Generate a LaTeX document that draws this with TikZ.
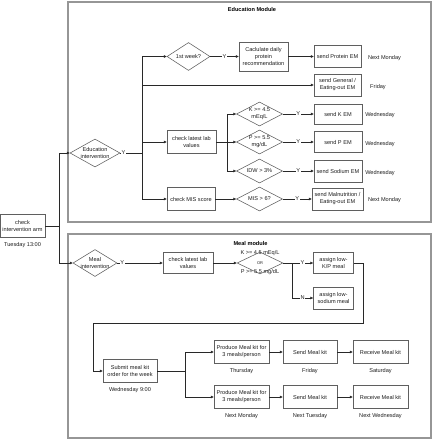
\documentclass[tikz,border=0pt]{standalone}
\usepackage{fontspec}
\setmainfont{Liberation Sans}
\usetikzlibrary{positioning,shapes.geometric,arrows.meta}
\definecolor{framegray}{RGB}{150,150,150}
\definecolor{boxgray}{RGB}{95,95,95}
\definecolor{linegray}{RGB}{40,40,40}
\definecolor{textgray}{RGB}{30,30,30}
\newcommand{\fsmall}{\fontsize{5.6}{7}\selectfont}
\tikzset{
  modframe/.style={draw=framegray,line width=1.1pt},
  modtitle/.style={font=\fsmall\bfseries,text=black,inner sep=0pt},
  procbox/.style={rectangle,draw=boxgray,line width=0.55pt,fill=white,
    text=textgray,align=center,font=\fsmall,inner sep=1pt},
  decision/.style={diamond,draw=boxgray,line width=0.55pt,fill=white,
    text=textgray,align=center,font=\fsmall,inner sep=-2pt,aspect=1.7},
  kptext/.style={font=\fontsize{5.6}{9.5}\selectfont,align=center,text=textgray,inner sep=0pt},
  daylbl/.style={font=\fsmall,text=textgray,inner sep=1pt},
  yn/.style={font=\fsmall,text=textgray,fill=white,inner sep=0.6pt},
  ln/.style={draw=linegray,line width=0.5pt},
  fl/.style={ln,-{Triangle[length=2.8pt,width=2.6pt]}},
}
\begin{document}
\begin{tikzpicture}[x=1pt,y=-1pt]
  \useasboundingbox (0,0) rectangle (435,440);
  % module frames
  \draw[modframe] (68,2) rectangle (431,222);
  \draw[modframe] (68,234) rectangle (431,438);
  \node[modtitle] (edt) at (252,9) {Education Module};
  \node[modtitle] (mlt) at (250.5,243) {Meal module};

  % entry
  \node[procbox,minimum width=45pt,minimum height=23pt] (ci) at (22.5,226) {check\\intervention arm};
  \node[daylbl,below=3pt of ci] (dci) {Tuesday 13:00};
  \node[decision,minimum width=50pt,minimum height=28pt] (ei) at (95,153) {Education\\intervention};
  \node[decision,minimum width=44pt,minimum height=27pt] (mi) at (95,263) {Meal\\intervention};
  \coordinate (cb) at (59,226);
  \draw[ln] (ci) -- (cb);
  \draw[fl] (cb) |- (ei);
  \draw[fl] (cb) |- (mi);

  % Education module
  \node[decision,minimum width=43pt,minimum height=28pt] (wk) at (188.5,56.5) {1st week?};
  \node[procbox,minimum width=49pt,minimum height=29pt] (cp) at (263.5,56.5) {Caclulate daily\\protein\\recommendation};
  \node[procbox,minimum width=47pt,minimum height=22pt] (pe) at (337.5,56.5) {send Protein EM};
  \node[procbox,minimum width=47pt,minimum height=22pt] (ge) at (337.5,85) {send General /\\Eating-out EM};
  \node[procbox,minimum width=49pt,minimum height=23pt] (lab) at (191.5,142) {check latest lab\\values};
  \node[procbox,minimum width=48pt,minimum height=23pt] (cm) at (191,199) {check MIS score};
  \node[decision,minimum width=46pt,minimum height=24pt] (kd) at (259.5,114) {K >= 4.5\\mEq/L};
  \node[decision,minimum width=46pt,minimum height=24pt] (pd) at (259.5,142) {P >= 5.5\\mg/dL};
  \node[decision,minimum width=46pt,minimum height=24pt] (idw) at (259.5,171) {IDW > 3\%};
  \node[decision,minimum width=46pt,minimum height=24pt] (mis) at (259.5,199) {MIS > 6?};
  \node[procbox,minimum width=48pt,minimum height=20pt] (ke) at (338,114) {send K EM};
  \node[procbox,minimum width=48pt,minimum height=21pt] (pem) at (338,142) {send P EM};
  \node[procbox,minimum width=48pt,minimum height=22pt] (se) at (338,171) {send Sodium EM};
  \node[procbox,minimum width=51pt,minimum height=22pt] (me) at (337.5,199) {send Malnutrition /\\Eating-out EM};
  \node[daylbl] (dpe) at (384.5,58.5) {Next Monday};
  \node[daylbl] (dge) at (378,87) {Friday};
  \node[daylbl] (dke) at (380,115) {Wednesday};
  \node[daylbl] (dpm) at (380,144) {Wednesday};
  \node[daylbl] (dse) at (380,173) {Wednesday};
  \node[daylbl] (dme) at (384.5,200) {Next Monday};

  \coordinate (eb) at (142,153);
  \draw[ln] (ei) -- node[yn,pos=0.15]{Y} (eb);
  \foreach \t in {wk,ge,lab,cm}{\draw[fl] (eb) |- (\t);}
  \draw[fl] (wk) -- node[yn]{Y} (cp);
  \draw[fl] (cp) -- (pe);
  \coordinate (lb) at (227,142);
  \draw[ln] (lab) -- (lb);
  \foreach \d in {kd,pd,idw}{\draw[fl] (lb) |- (\d);}
  \draw[fl] (cm) -- (mis);
  \foreach \d/\e in {kd/ke,pd/pem,idw/se,mis/me}{\draw[fl] (\d) -- node[yn]{Y} (\e);}

  % Meal module
  \node[procbox,minimum width=50pt,minimum height=21pt] (ml) at (188,263) {check latest lab\\values};
  \node[decision,minimum width=46pt,minimum height=22pt,
    label={[kptext]center:{K >= 4.5 mEq/L\\{\fontsize{4}{5}\selectfont OR}\\P >= 5.5 mg/dL}}] (kp) at (260,263) {};
  \node[procbox,minimum width=40pt,minimum height=21pt] (ak) at (333.5,263) {assign low-\\K/P meal};
  \node[procbox,minimum width=40pt,minimum height=22pt] (as) at (333.5,298) {assign low-\\sodium meal};
  \node[procbox,minimum width=54pt,minimum height=23pt] (sub) at (130,371) {Submit meal kit\\order for the week};
  \node[daylbl,below=3pt of sub] (dsub) {Wednesday 9:00};
  \draw[fl] (mi) -- node[yn,pos=0.11]{Y} (ml);
  \draw[fl] (ml) -- (kp);
  \coordinate (kb) at (292,263);
  \draw[ln] (kp) -- (kb);
  \draw[fl] (kb) -- node[yn]{Y} (ak);
  \draw[fl] (kb) |- node[yn,pos=0.75]{N} (as);
  \coordinate (rt) at (363,323);
  \coordinate (lf) at (93,323);
  \draw[fl] (ak) -| (rt) -- (lf) |- (sub);

  \coordinate (sb) at (185,371);
  \draw[ln] (sub) -- (sb);
  \node[procbox,minimum width=55pt,minimum height=23pt] (pr1) at (241.5,352) {Produce Meal kit for\\3 meals/person};
  \node[procbox,minimum width=54pt,minimum height=23pt] (sd1) at (310,352) {Send Meal kit};
  \node[procbox,minimum width=55pt,minimum height=23pt] (rc1) at (380.5,352) {Receive Meal kit};
  \node[procbox,minimum width=55pt,minimum height=23pt] (pr2) at (241.5,397) {Produce Meal kit for\\3 meals/person};
  \node[procbox,minimum width=54pt,minimum height=23pt] (sd2) at (310,397) {Send Meal kit};
  \node[procbox,minimum width=55pt,minimum height=23pt] (rc2) at (380.5,397) {Receive Meal kit};
  \node[daylbl,below=3.5pt of pr1] (dpr1) {Thursday};
  \node[daylbl,below=3.5pt of sd1] (dsd1) {Friday};
  \node[daylbl,below=3.5pt of rc1] (drc1) {Saturday};
  \node[daylbl,below=3.5pt of pr2] (dpr2) {Next Monday};
  \node[daylbl,below=3.5pt of sd2] (dsd2) {Next Tuesday};
  \node[daylbl,below=3.5pt of rc2] (drc2) {Next Wednesday};
  \draw[fl] (sb) |- (pr1);
  \draw[fl] (sb) |- (pr2);
  \foreach \a/\b in {pr1/sd1,sd1/rc1,pr2/sd2,sd2/rc2}{\draw[fl] (\a) -- (\b);}
\end{tikzpicture}
\end{document}
